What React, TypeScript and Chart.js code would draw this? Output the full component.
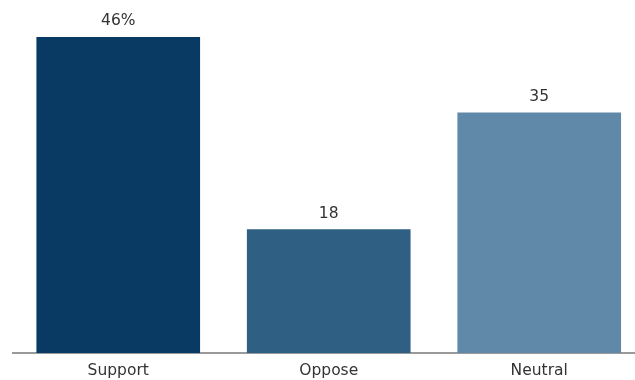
import React, { useEffect, useRef } from "react";
import { Chart, registerables } from "chart.js";

Chart.register(...registerables);

const categories = ["Support", "Oppose", "Neutral"];
const values = [46, 18, 35];
const valueLabels = ["46%", "18", "35"];
const barColors = ["#083a63", "#2f6084", "#6088a8"];

const valueLabelPlugin = {
  id: "valueLabels",
  afterDatasetsDraw(chart: any) {
    const ctx = chart.ctx;
    const meta = chart.getDatasetMeta(0);
    ctx.save();
    ctx.font = "15.5px 'DejaVu Sans'";
    ctx.fillStyle = "#333333";
    ctx.textAlign = "center";
    ctx.textBaseline = "middle";
    meta.data.forEach((bar: any, i: number) => {
      ctx.fillText(valueLabels[i], bar.x, bar.y - 16);
    });
    ctx.restore();
  },
};

export default function App() {
  const ref = useRef<HTMLCanvasElement>(null);
  useEffect(() => {
    if (!ref.current) return;
    const chart = new Chart(ref.current, {
      type: "bar",
      data: {
        datasets: [
          {
            data: values.map((v, i) => ({ x: i, y: v })),
            backgroundColor: barColors,
            borderWidth: 0,
            barThickness: 163,
          },
        ],
      },
      plugins: [valueLabelPlugin],
      options: {
        animation: false,
        responsive: false,
        maintainAspectRatio: false,
        layout: { padding: { left: 13, right: 0, top: 10, bottom: 0 } },
        plugins: {
          legend: { display: false },
          tooltip: { enabled: false },
        },
        scales: {
          x: {
            type: "linear",
            min: -0.5,
            max: 2.455,
            offset: false,
            grid: { display: false, drawTicks: false },
            border: { display: true, color: "#9a9a9a", width: 2 },
            afterFit: (s: any) => {
              s.height = 27;
            },
            ticks: {
              stepSize: 1,
              includeBounds: false,
              autoSkip: false,
              maxRotation: 0,
              padding: 9,
              color: "#333333",
              font: { family: "'DejaVu Sans'", size: 15.5 },
              callback: (v: any) =>
                Number.isInteger(v) && categories[v] ? categories[v] : "",
            },
          },
          y: {
            display: false,
            min: 0,
            max: 50,
          },
        },
      },
    });
    return () => chart.destroy();
  }, []);
  return (
    <div style={{ position: "fixed", left: 0, top: 0, width: 635, height: 380 }}>
      <canvas ref={ref} width={635} height={380} />
    </div>
  );
}
